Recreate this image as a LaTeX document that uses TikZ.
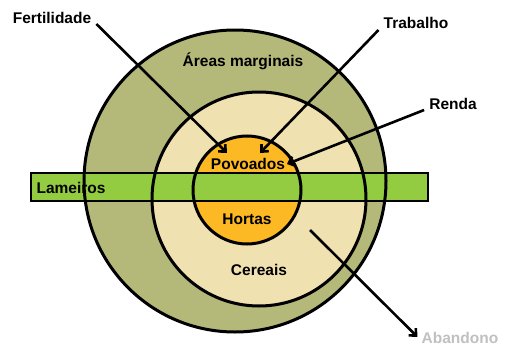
\documentclass[tikz,border=0pt]{standalone}
\usepackage{fontspec}
\setmainfont{Liberation Sans}
\usepackage{xcolor}
\usetikzlibrary{positioning,arrows.meta}
\definecolor{olive}{RGB}{180,184,121}
\definecolor{cream}{RGB}{240,225,177}
\definecolor{orangey}{RGB}{252,185,36}
\definecolor{lime}{RGB}{147,204,64}
\definecolor{greytext}{RGB}{192,192,192}

\begin{document}
\begin{tikzpicture}[x=1pt, y=-1pt, every node/.style={font=\fontsize{15.5}{18}\selectfont\bfseries, inner sep=0pt},
  ring/.style={line width=3pt},
  pointer/.style={line width=2.6pt, -{Straight Barb[length=5.5pt, width=10pt]}}]
\useasboundingbox (0,0) rectangle (506,348);

% Rings (fills first)
\fill[olive] (235,181) circle (151);
\fill[cream] (259,199) circle (107);
\fill[orangey] (247,190) circle (54);

% Lameiros strip
\draw[fill=lime, line width=2.2pt] (31,173) rectangle (428,201);
\node (lam) at (71,188) {Lameiros};

% Ring outlines
\draw[ring] (235,181) circle (151);
\draw[ring] (259,199) circle (107);
\draw[ring] (247,190) circle (54);

% Zone labels
\node (AM) at (243,61) {Áreas marginais};
\node (PV) at (248,164) {Povoados};
\node (HO) at (247,219) {Hortas};
\node (CE) at (259,270) {Cereais};

% Factors
\node (fert) at (52,18) {Fertilidade};
\node (trab) at (416,23) {Trabalho};
\node (renda) at (453,104) {Renda};
\node[greytext] (aband) at (460,338) {Abandono};

\coordinate (fertTip) at (227,153);
\coordinate (trabTip) at (260,153);
\coordinate (rendaTip) at (287,164);
\coordinate (abStart) at (310,230);

% Arrows
\draw[pointer] ([xshift=5pt, yshift=-6pt]fert.east) -- (fertTip);
\draw[pointer] ([xshift=-5pt, yshift=-7pt]trab.west) -- (trabTip);
\draw[pointer] ([xshift=-5pt, yshift=-6pt]renda.west) -- (rendaTip);
\draw[pointer] (abStart) -- ([xshift=-4pt, yshift=1pt]aband.west);
\end{tikzpicture}
\end{document}
